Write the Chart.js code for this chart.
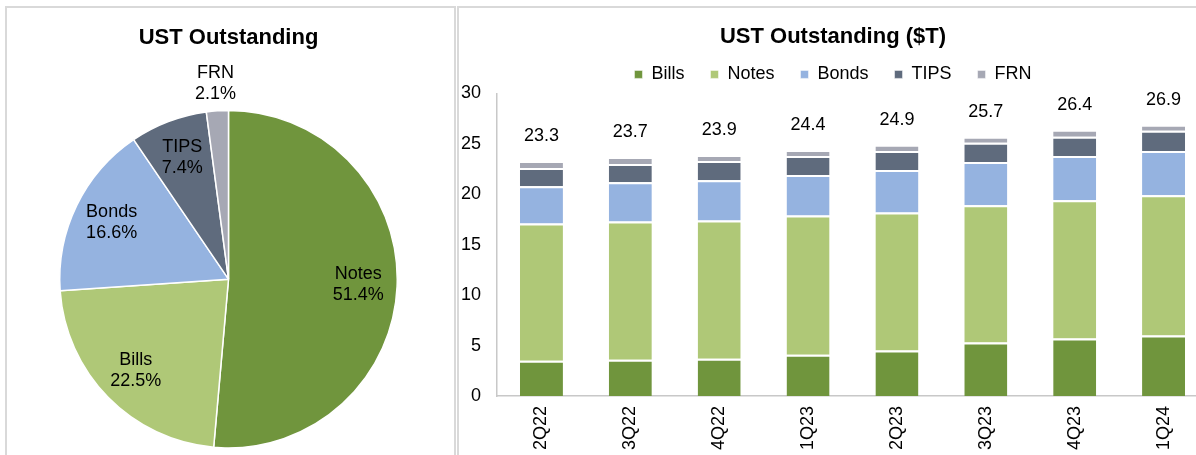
<!DOCTYPE html>
<html>
<head>
<meta charset="utf-8">
<script src="https://cdn.jsdelivr.net/npm/chart.js@4.4.1/dist/chart.umd.min.js"></script>
<style>
  body { margin: 0; width: 1196px; height: 455px; overflow: hidden; background: #fff; position: relative; }
  .panel { position: absolute; border: 2px solid #d9d9d9; box-sizing: border-box; }
  #leftPanel { left: 5px; top: 6px; width: 451px; height: 470px; }
  #rightPanel { left: 457px; top: 6px; width: 800px; height: 470px; }
  canvas { position: absolute; top: 0; }
  #pieChart { left: 0; }
  #barChart { left: 458px; }
</style>
</head>
<body>
<div class="panel" id="leftPanel"></div>
<div class="panel" id="rightPanel"></div>
<canvas id="pieChart" width="456" height="455"></canvas>
<canvas id="barChart" width="750" height="455"></canvas>

<script>
// ---------- data ----------
const pieLabels = ['Notes', 'Bills', 'Bonds', 'TIPS', 'FRN'];
const pieShares = [51.4, 22.5, 16.6, 7.4, 2.1];

const quarters = ['2Q22', '3Q22', '4Q22', '1Q23', '2Q23', '3Q23', '4Q23', '1Q24'];
const bills = [3.5, 3.6, 3.7, 4.1, 4.5, 5.3, 5.7, 6.0];
const notes = [13.6, 13.7, 13.7, 13.8, 13.7, 13.6, 13.7, 13.9];
const bonds = [3.7, 3.9, 4.0, 4.0, 4.2, 4.3, 4.4, 4.4];
const tips = [1.8, 1.8, 1.9, 1.9, 1.9, 1.9, 1.9, 2.0];
const frn = [0.7, 0.7, 0.6, 0.6, 0.6, 0.6, 0.7, 0.6];
const totals = [23.3, 23.7, 23.9, 24.4, 24.9, 25.7, 26.4, 26.9];
const yTicks = [0, 5, 10, 15, 20, 25, 30];

// colours
const cBills = '#70953d';
const cNotes = '#afc877';
const cBonds = '#95b3e0';
const cTips = '#5f6b7d';
const cFrn = '#a6a8b4';

const font = '"Liberation Sans", Arial, sans-serif';
Chart.defaults.font.family = font;
Chart.defaults.color = '#000';
Chart.defaults.animation = false;

// labels on the pie slices (small slices go outside)
const pieLabelPlugin = {
  id: 'pieLabels',
  afterDatasetsDraw(chart) {
    const ctx = chart.ctx;
    const meta = chart.getDatasetMeta(0);
    ctx.save();
    ctx.font = '18px ' + font;
    ctx.fillStyle = '#000';
    ctx.textAlign = 'center';
    ctx.textBaseline = 'middle';
    meta.data.forEach((arc, i) => {
      const p = arc.getProps(['x', 'y', 'startAngle', 'endAngle', 'outerRadius'], true);
      const mid = (p.startAngle + p.endAngle) / 2;
      const f = pieShares[i] < 5 ? 1.16 : 0.77;
      const lx = p.x + Math.cos(mid) * p.outerRadius * f;
      const ly = p.y + Math.sin(mid) * p.outerRadius * f;
      ctx.fillText(pieLabels[i], lx, ly - 10.5);
      ctx.fillText(pieShares[i].toFixed(1) + '%', lx, ly + 10.5);
    });
    ctx.restore();
  }
};

new Chart(document.getElementById('pieChart'), {
  type: 'pie',
  data: {
    labels: pieLabels,
    datasets: [{
      data: pieShares,
      backgroundColor: [cBills, cNotes, cBonds, cTips, cFrn],
      borderColor: '#fff',
      borderWidth: 1.5,
      hoverOffset: 0
    }]
  },
  options: {
    responsive: false,
    devicePixelRatio: 1,
    layout: { padding: { left: 59, right: 58, top: 0, bottom: 6 } },
    plugins: {
      legend: { display: false },
      tooltip: { enabled: false },
      title: {
        display: true,
        text: 'UST Outstanding',
        color: '#000',
        font: { size: 22, weight: 'bold' },
        padding: { top: 25, bottom: 58 }
      }
    }
  },
  plugins: [pieLabelPlugin]
});

// total above each stacked bar
const totalLabelPlugin = {
  id: 'totals',
  afterDatasetsDraw(chart) {
    const ctx = chart.ctx;
    const xs = chart.scales.x, ys = chart.scales.y;
    ctx.save();
    ctx.font = '18px ' + font;
    ctx.fillStyle = '#000';
    ctx.textAlign = 'center';
    ctx.textBaseline = 'middle';
    totals.forEach((t, i) => {
      ctx.fillText(t.toFixed(1), xs.getPixelForValue(i), ys.getPixelForValue(t) - 25);
    });
    ctx.restore();
  }
};

const seg = { top: 2, right: 0, bottom: 0, left: 0 };

new Chart(document.getElementById('barChart'), {
  type: 'bar',
  data: {
    labels: quarters,
    datasets: [
      { label: 'Bills', data: bills, backgroundColor: cBills },
      { label: 'Notes', data: notes, backgroundColor: cNotes },
      { label: 'Bonds', data: bonds, backgroundColor: cBonds },
      { label: 'TIPS', data: tips, backgroundColor: cTips },
      { label: 'FRN', data: frn, backgroundColor: cFrn }
    ].map(d => Object.assign(d, {
      borderColor: '#fff',
      borderWidth: seg,
      borderSkipped: false,
      categoryPercentage: 1,
      barPercentage: 0.484
    }))
  },
  options: {
    responsive: false,
    devicePixelRatio: 1,
    layout: { padding: 0 },
    scales: {
      x: {
        stacked: true,
        grid: { display: false, drawTicks: false },
        border: { display: true, color: '#c8c8c8', width: 1.5 },
        ticks: { font: { size: 18 }, color: '#000', minRotation: 90, maxRotation: 90, padding: 10 },
        afterFit: (scale) => { scale.height = 59; }
      },
      y: {
        stacked: true,
        min: 0,
        max: 30,
        grid: { display: false, drawTicks: false },
        border: { display: true, color: '#c8c8c8', width: 1.5 },
        afterBuildTicks: (scale) => { scale.ticks = yTicks.map(v => ({ value: v })); },
        ticks: { font: { size: 18 }, color: '#000', padding: 16 },
        afterFit: (scale) => { scale.width = 39; }
      }
    },
    plugins: {
      tooltip: { enabled: false },
      title: {
        display: true,
        text: 'UST Outstanding ($T)',
        color: '#000',
        font: { size: 22, weight: 'bold' },
        padding: { top: 24, bottom: -11 }
      },
      legend: {
        display: true,
        position: 'top',
        labels: {
          boxWidth: 8,
          boxHeight: 8,
          padding: 26,
          color: '#000',
          font: { size: 18 }
        }
      }
    }
  },
  plugins: [totalLabelPlugin]
});
</script>
</body>
</html>
